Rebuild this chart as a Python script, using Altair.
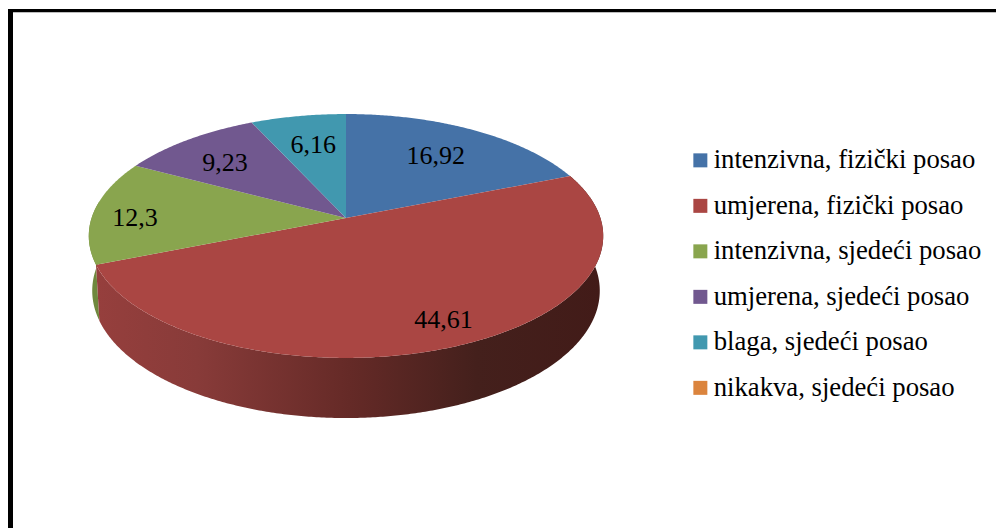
import math
import altair as alt

# Shares of physical activity by type of work
CATEGORIES = [
    "intenzivna, fizički posao",
    "umjerena, fizički posao",
    "intenzivna, sjedeći posao",
    "umjerena, sjedeći posao",
    "blaga, sjedeći posao",
    "nikakva, sjedeći posao",
]
VALUES = [16.92, 44.61, 12.3, 9.23, 6.16, 0]
LABELS = ["16,92", "44,61", "12,3", "9,23", "6,16"]
COLORS = ["#4572A7", "#AA4643", "#89A54E", "#71588F", "#4198AF", "#DB843D"]

# Perspective disc: rim plane and base plane of the tilted pie
CX = 346
TOP = dict(y0=218, a=254.4, b=119.3, k=0.1475)
BASE = dict(y0=272, a=251.0, b=124.5, k=0.1475)
# Placement of each value label: radial fraction and angular nudge in degrees
LABEL_R = [0.68, 0.83, 0.83, 0.71, 0.685]
LABEL_NUDGE = [0, -2.5, -3, -2.5, 0.5]

FONT = "Liberation Serif"


def project(theta_deg, r=1.0, plane=TOP):
    t = math.radians(theta_deg)
    x, y = r * math.sin(t), r * math.cos(t)
    w = 1 + plane["k"] * y
    return [CX + plane["a"] * x / w, plane["y0"] - plane["b"] * y / w]


def arc(start, end, plane=TOP):
    n = max(2, int(abs(end - start)) * 2)
    return [project(start + (end - start) * i / n, 1.0, plane) for i in range(n + 1)]


def feature(ring, name):
    ring = ring + [ring[0]]
    return {
        "type": "Feature",
        "properties": {"name": name},
        "geometry": {"type": "Polygon", "coordinates": [ring]},
    }


total = sum(VALUES)
edges = [0.0]
for v in VALUES:
    edges.append(edges[-1] + v / total * 360)

slices = [
    feature([project(0, 0)] + arc(edges[i], edges[i + 1]), CATEGORIES[i])
    for i in range(len(CATEGORIES))
    if VALUES[i] > 0
]


def wall(start, end, name):
    return feature(arc(start, end) + arc(end, start, BASE), name)


label_rows = []
for i, text in enumerate(LABELS):
    mid = (edges[i] + edges[i + 1]) / 2 + LABEL_NUDGE[i]
    px, py = project(mid, LABEL_R[i])
    label_rows.append({"lon": px, "lat": py, "text": text})

projection = dict(type="identity", scale=1, translate=[0, 0])

red_shade = alt.Gradient(
    gradient="linear",
    x1=0, x2=1, y1=0, y2=0,
    stops=[
        alt.GradientStop(offset=0.0, color="#963F3D"),
        alt.GradientStop(offset=0.2, color="#883B39"),
        alt.GradientStop(offset=0.5, color="#652A27"),
        alt.GradientStop(offset=0.75, color="#44201C"),
        alt.GradientStop(offset=1.0, color="#421B18"),
    ],
)

green_wall = (
    alt.Chart(alt.Data(values=[wall(edges[2], edges[2] + 30, "g")]))
    .mark_geoshape(fill="#6F883D", stroke=None)
    .project(**projection)
)
red_wall = (
    alt.Chart(alt.Data(values=[wall(edges[1], edges[2], "r")]))
    .mark_geoshape(fill=red_shade, stroke=None)
    .project(**projection)
)
top = (
    alt.Chart(alt.Data(values=slices))
    .mark_geoshape(stroke=None)
    .encode(
        color=alt.Color(
            "properties.name:N",
            scale=alt.Scale(domain=CATEGORIES, range=COLORS),
            legend=alt.Legend(
                title=None,
                orient="none",
                legendX=687,
                legendY=147,
                symbolType="square",
                symbolSize=196,
                symbolStrokeWidth=0,
                labelFont=FONT,
                labelFontSize=26.7,
                labelColor="#000000",
                labelOffset=0,
                labelLimit=320,
                rowPadding=17.5,
                values=CATEGORIES,
            ),
        )
    )
    .project(**projection)
)
value_labels = (
    alt.Chart(alt.Data(values=label_rows))
    .mark_text(font=FONT, fontSize=26, color="#000000", align="center", baseline="middle")
    .encode(longitude="lon:Q", latitude="lat:Q", text="text:N")
    .project(**projection)
)

# Heavy frame along the top and left edges
frame_top = alt.Chart(alt.Data(values=[{"k": 0}])).mark_rect(color="#000000").encode(
    x=alt.value(8), x2=alt.value(996), y=alt.value(9), y2=alt.value(12)
)
frame_shadow = alt.Chart(alt.Data(values=[{"k": 0}])).mark_rect(color="#BDBDBD").encode(
    x=alt.value(13), x2=alt.value(996), y=alt.value(12), y2=alt.value(13)
)
frame_left = alt.Chart(alt.Data(values=[{"k": 0}])).mark_rect(color="#000000").encode(
    x=alt.value(8), x2=alt.value(13), y=alt.value(9), y2=alt.value(528)
)

chart = (
    alt.layer(green_wall, red_wall, top, value_labels, frame_top, frame_shadow, frame_left)
    .resolve_scale(color="independent")
    .properties(width=996, height=528, padding=0, autosize=alt.AutoSizeParams(type="none"), background="#FFFFFF")
    .configure_view(stroke=None)
)

chart.save("out.html", embed_options={"renderer": "svg", "actions": False})
